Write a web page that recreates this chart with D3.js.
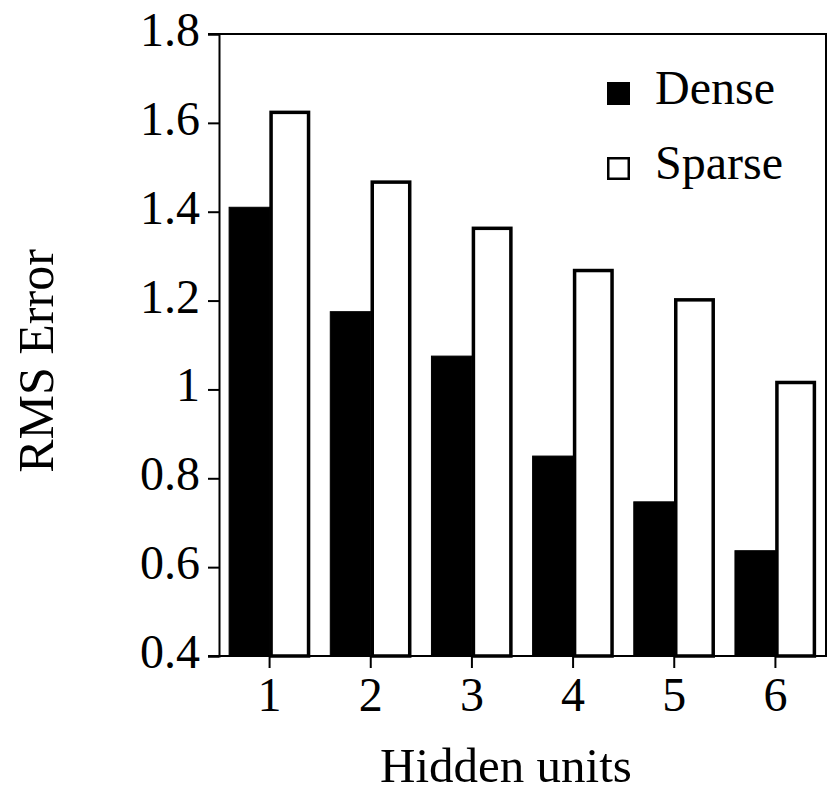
<!DOCTYPE html>
<html>
<head>
<meta charset="utf-8">
<title>RMS Error</title>
<script src="https://cdn.jsdelivr.net/npm/d3@7"></script>
<style>
body { margin: 0; background: #fff; }
text { font-family: "Liberation Serif", "Times New Roman", serif; fill: #000; }
</style>
</head>
<body>
<svg width="827" height="793" id="chart"></svg>
<script>
// data
var units = ["1", "2", "3", "4", "5", "6"];
var series = ["Dense", "Sparse"];
var dense = [1.41, 1.175, 1.075, 0.85, 0.747, 0.637];
var sparse = [1.627, 1.47, 1.366, 1.271, 1.205, 1.019];
var yTicks = [0.4, 0.6, 0.8, 1, 1.2, 1.4, 1.6, 1.8];

var svg = d3.select("#chart");
// note: "top" is taken by window.top, so plot edges get a prefix
var plotL = 219, plotR = 826, plotT = 34, plotB = 656;

var x0 = d3.scaleBand().domain(units).range([plotL, plotR]).paddingInner(0.2).paddingOuter(0.1);
var x1 = d3.scaleBand().domain(series).range([0, x0.bandwidth()]);
var y = d3.scaleLinear().domain([0.4, 1.8]).range([plotB, plotT]);

var rows = units.map(function(u, i) {
	return { unit: u, values: [ { key: "Dense", v: dense[i] }, { key: "Sparse", v: sparse[i] } ] };
});

// bars
var groups = svg.selectAll("g.grp").data(rows).enter().append("g")
	.attr("class", "grp")
	.attr("transform", function(d) { return "translate(" + x0(d.unit) + ",0)"; });

groups.selectAll("rect").data(function(d) { return d.values; }).enter().append("rect")
	.attr("x", function(d) { return x1(d.key) + (d.key == "Sparse" ? 1.5 : 0); })
	.attr("width", function(d) { return x1.bandwidth() - (d.key == "Sparse" ? 3 : 0); })
	.attr("y", function(d) { return y(d.v) + (d.key == "Sparse" ? 1.5 : 0); })
	.attr("height", function(d) { return plotB - y(d.v) - (d.key == "Sparse" ? 1.5 : 0); })
	.attr("fill", function(d) { return d.key == "Dense" ? "#000" : "#fff"; })
	.attr("stroke", "#000")
	.attr("stroke-width", function(d) { return d.key == "Dense" ? 1 : 3.5; });

// y axis
var yAxis = svg.append("g").attr("transform", "translate(" + plotL + ",0)")
	.call(d3.axisLeft(y).tickValues(yTicks).tickSize(11).tickPadding(8).tickFormat(d3.format("")));
yAxis.select(".domain").attr("stroke-width", 2);
yAxis.selectAll(".tick line").attr("stroke-width", 2);
yAxis.selectAll(".tick text").attr("font-size", 48).attr("dy", "0.24em");

// x axis
var xAxis = svg.append("g").attr("transform", "translate(0," + plotB + ")")
	.call(d3.axisBottom(x0).tickSize(12).tickPadding(10).tickSizeOuter(0));
xAxis.select(".domain").remove();
xAxis.selectAll(".tick line").attr("stroke-width", 2);
xAxis.selectAll(".tick text").attr("font-size", 48).attr("dy", "0.68em");

// frame
svg.append("path")
	.attr("d", "M" + (plotL - 11) + "," + plotB + "H" + plotR + "V" + plotT + "H" + (plotL - 11))
	.attr("fill", "none").attr("stroke", "#000").attr("stroke-width", 2);

// axis titles
svg.append("text").attr("x", 506).attr("y", 782)
	.attr("text-anchor", "middle").attr("font-size", 49).text("Hidden units");
svg.append("text").attr("transform", "translate(53,361) rotate(-90)")
	.attr("text-anchor", "middle").attr("font-size", 50).text("RMS Error");

// legend
var legend = svg.selectAll("g.leg").data(series).enter().append("g")
	.attr("class", "leg")
	.attr("transform", function(d, i) { return "translate(607," + (82 + i * 75) + ")"; });
legend.append("rect")
	.attr("x", function(d) { return d == "Sparse" ? 1.25 : 0; })
	.attr("y", function(d) { return d == "Sparse" ? 1.25 : 0; })
	.attr("width", function(d) { return d == "Sparse" ? 20.5 : 23; })
	.attr("height", function(d) { return d == "Sparse" ? 20.5 : 23; })
	.attr("fill", function(d) { return d == "Dense" ? "#000" : "#fff"; })
	.attr("stroke", "#000").attr("stroke-width", function(d) { return d == "Dense" ? 0 : 2.5; });
legend.append("text").attr("x", 48).attr("y", 22).attr("font-size", 48).text(function(d) { return d; });
</script>
</body>
</html>
